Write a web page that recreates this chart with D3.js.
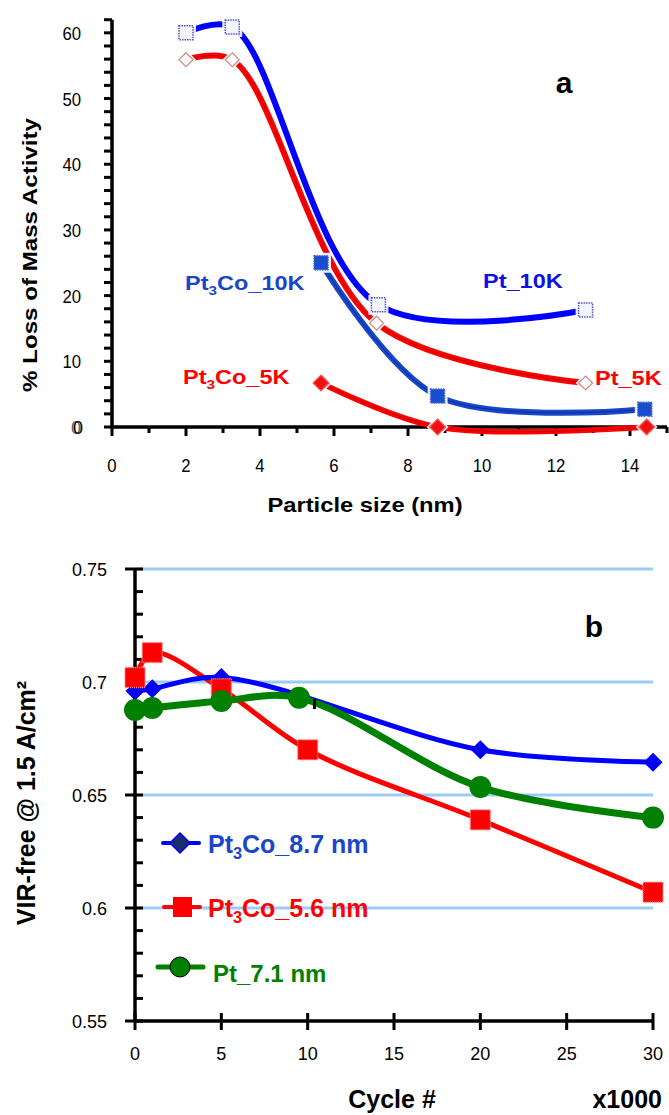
<!DOCTYPE html>
<html>
<head>
<meta charset="utf-8">
<script src="https://cdn.jsdelivr.net/npm/d3@7"></script>
<style>
  body { margin: 0; background: #fff; }
  svg { display: block; font-family: "Liberation Sans", Arial, sans-serif; }
</style>
</head>
<body>
<div id="svgcontainer"></div>
<script>
// --- --- Data --- ---

// Panel a: % loss of mass activity vs particle size (nm)
var pt10k_x = [2.0, 3.25, 7.2, 12.8];
var pt10k_y = [60.0, 60.9, 18.6, 17.8];
var pt5k_x = [2.0, 3.25, 7.15, 12.8];
var pt5k_y = [55.9, 55.9, 15.8, 6.7];
var pt3co10k_x = [5.65, 8.8, 14.4];
var pt3co10k_y = [25.0, 4.7, 2.7];
var pt3co5k_x = [5.65, 8.8, 14.45];
var pt3co5k_y = [6.7, 0, 0];

// Panel b: VIR-free @ 1.5 A/cm2 vs cycle # (x1000)
var blue_cycles = [0, 1, 5, 20, 30];
var blue_vir = [0.696, 0.697, 0.702, 0.670, 0.6645];
var red_cycles = [0, 1, 5, 10, 20, 30];
var red_vir = [0.702, 0.713, 0.697, 0.670, 0.639, 0.607];
var green_cycles = [0, 1, 5, 9.5, 20, 30];
var green_vir = [0.6876, 0.6885, 0.6916, 0.693, 0.6535, 0.640];

var top_y_ticks = [0, 10, 20, 30, 40, 50, 60];
var top_x_ticks = [0, 2, 4, 6, 8, 10, 12, 14];
var bot_y_ticks = ["0.55", "0.6", "0.65", "0.7", "0.75"];
var bot_x_ticks = [0, 5, 10, 15, 20, 25, 30];

// --- --- Setup --- ---
var width = 669;
var height = 1115;

var svg = d3.select("#svgcontainer").append("svg")
    .attr("width", width).attr("height", height).attr("id", "svg");

var smooth = d3.curveCatmullRom.alpha(0.5);

function zip(xs, ys){
    return xs.map(function(v, i){ return [v, ys[i]]; });
}

// --- Text helper: parts is a list of [string, isSubscript] ---
// sx stretches the text along its own direction (the original picture is a bit stretched)
function addText(g, x, y, parts, size, o){
    o = o || {};
    var tr = "translate(" + x + "," + y + ")";
    if (o.rotate) tr += " rotate(" + o.rotate + ")";
    if (o.sx) tr += " scale(" + o.sx + ",1)";
    var t = g.append("text").attr("transform", tr)
        .attr("font-size", size)
        .attr("font-weight", o.bold ? "bold" : "normal")
        .attr("fill", o.fill || "#000")
        .attr("text-anchor", o.anchor || "start");
    if (typeof parts == "string" || typeof parts == "number") parts = [[String(parts), false]];
    var down = false;
    parts.forEach(function(p){
        var s = t.append("tspan").text(p[0]);
        if (p[1]){
            s.attr("dy", size * 0.25).attr("font-size", size * 0.65);
            down = true;
        } else if (down){
            s.attr("dy", -size * 0.25);
            down = false;
        }
    });
    return t;
}

function drawCurve(g, line, pts, color, w, inner){
    g.append("path").attr("d", line(pts)).attr("fill", "none")
        .attr("stroke", color).attr("stroke-width", w);
    if (inner){
        g.append("path").attr("d", line(pts)).attr("fill", "none")
            .attr("stroke", inner).attr("stroke-width", 1);
    }
}

// --- --- Panel a --- ---
var xa = d3.scaleLinear().domain([0, 15]).range([112, 667]);
var ya = d3.scaleLinear().domain([0, 62]).range([427, 19.7]);

var ga = svg.append("g");

// axes
ga.append("line").attr("x1", xa(0)).attr("x2", xa(15)).attr("y1", ya(0)).attr("y2", ya(0))
    .attr("stroke", "#000").attr("stroke-width", 3.5);
ga.append("line").attr("x1", xa(0)).attr("x2", xa(0)).attr("y1", ya(0) + 1.5).attr("y2", ya(62))
    .attr("stroke", "#000").attr("stroke-width", 3.5);

d3.range(0, 63, 2).forEach(function(v){
    ga.append("line").attr("x1", xa(0) - 8).attr("x2", xa(0)).attr("y1", ya(v)).attr("y2", ya(v))
        .attr("stroke", "#000").attr("stroke-width", 3);
});
d3.range(0, 16, 1).forEach(function(v){
    var major = (v % 2 == 0);
    ga.append("line").attr("x1", xa(v)).attr("x2", xa(v)).attr("y1", ya(0)).attr("y2", ya(0) + (major ? 9 : 6))
        .attr("stroke", "#000").attr("stroke-width", 3);
});

top_y_ticks.forEach(function(v){
    if (v == 0){
        // the zero label shows up doubled in the original
        addText(ga, 81, ya(0) + 7, "0", 18, {anchor: "end", fill: "#666"});
        addText(ga, 83, ya(0) + 7, "0", 18, {anchor: "end"});
        return;
    }
    addText(ga, 81, ya(v) + 7, v, 18, {anchor: "end", sx: 0.93});
});
top_x_ticks.forEach(function(v){
    addText(ga, xa(v), 472, v, 18, {anchor: "middle", sx: 0.93});
});

addText(ga, 365, 512, "Particle size (nm)", 21, {anchor: "middle", bold: true, sx: 1.13});
addText(ga, 37, 255, "% Loss of Mass Activity", 21, {anchor: "middle", bold: true, rotate: -90, sx: 1.15});
addText(ga, 564, 93, "a", 30, {anchor: "middle", bold: true});

var lineA = d3.line().x(function(d){ return xa(d[0]); }).y(function(d){ return ya(d[1]); }).curve(smooth);

drawCurve(ga, lineA, zip(pt3co5k_x, pt3co5k_y), "#ff0000", 5.5, "#c80000");
drawCurve(ga, lineA, zip(pt3co10k_x, pt3co10k_y), "#1846c8", 6, "#0a2fa0");
drawCurve(ga, lineA, zip(pt5k_x, pt5k_y), "#ff0000", 6, "#c00000");
drawCurve(ga, lineA, zip(pt10k_x, pt10k_y), "#0000ff", 6, null);

function square(g, x, y, s, fill, stroke){
    g.append("rect").attr("x", x - s / 2 - 3).attr("y", y - s / 2 - 3).attr("width", s + 6).attr("height", s + 6)
        .attr("fill", "#fff").attr("opacity", 0.9);
    g.append("rect").attr("x", x - s / 2).attr("y", y - s / 2).attr("width", s).attr("height", s)
        .attr("fill", fill).attr("stroke", stroke).attr("stroke-width", 1.5).attr("stroke-dasharray", "1.5,1");
}
function diamond(g, x, y, s, fill, stroke){
    var p = [[x, y - s], [x + s, y], [x, y + s], [x - s, y]];
    g.append("path").attr("d", "M" + [[x, y - s - 3], [x + s + 3, y], [x, y + s + 3], [x - s - 3, y]].join("L") + "Z")
        .attr("fill", "#fff").attr("opacity", 0.9);
    g.append("path").attr("d", "M" + p.join("L") + "Z")
        .attr("fill", fill).attr("stroke", stroke).attr("stroke-width", 1.2);
}

pt10k_x.forEach(function(v, i){ square(ga, xa(v), ya(pt10k_y[i]), 14, "#f4f4ff", "#5555cc"); });
pt5k_x.forEach(function(v, i){ diamond(ga, xa(v), ya(pt5k_y[i]), 7, "#fff", "#d08a8a"); });
pt3co10k_x.forEach(function(v, i){ square(ga, xa(v), ya(pt3co10k_y[i]), 14, "#1a4ccc", "#3a6ae0"); });
pt3co5k_x.forEach(function(v, i){ diamond(ga, xa(v), ya(pt3co5k_y[i]), 8, "#ee1111", "#ff5555"); });

addText(ga, 185, 290, [["Pt", false], ["3", true], ["Co_10K", false]], 21, {bold: true, fill: "#1a46cc", sx: 1.12});
addText(ga, 183, 384, [["Pt", false], ["3", true], ["Co_5K", false]], 21, {bold: true, fill: "#ff0000", sx: 1.12});
addText(ga, 483, 288, "Pt_10K", 21, {bold: true, fill: "#1010e6", sx: 1.12});
addText(ga, 595, 385, "Pt_5K", 21, {bold: true, fill: "#ff0000", sx: 1.12});

// --- --- Panel b --- ---
var xb = d3.scaleLinear().domain([0, 30]).range([135, 653]);
var yb = d3.scaleLinear().domain([0.55, 0.75]).range([1021, 569]);

var gb = svg.append("g");

// grid lines
[0.6, 0.65, 0.7, 0.75].forEach(function(v){
    gb.append("line").attr("x1", xb(0)).attr("x2", xb(30)).attr("y1", yb(v)).attr("y2", yb(v))
        .attr("stroke", "#9ccbf7").attr("stroke-width", 3);
});

gb.append("line").attr("x1", xb(0)).attr("x2", xb(30)).attr("y1", yb(0.55)).attr("y2", yb(0.55))
    .attr("stroke", "#000").attr("stroke-width", 3.5);
gb.append("line").attr("x1", xb(0)).attr("x2", xb(0)).attr("y1", yb(0.55)).attr("y2", yb(0.75))
    .attr("stroke", "#000").attr("stroke-width", 3.5);

d3.range(0, 21, 1).forEach(function(k){
    var v = 0.55 + k * 0.01;
    var major = (k % 5 == 0);
    gb.append("line").attr("x1", xb(0) - (major ? 10 : 0)).attr("x2", xb(0) + 8)
        .attr("y1", yb(v)).attr("y2", yb(v)).attr("stroke", "#000").attr("stroke-width", 3);
});
bot_x_ticks.forEach(function(v){
    gb.append("line").attr("x1", xb(v)).attr("x2", xb(v)).attr("y1", yb(0.55) - 8).attr("y2", yb(0.55) + 9)
        .attr("stroke", "#000").attr("stroke-width", 3);
    addText(gb, xb(v), 1060, v, 18, {anchor: "middle"});
});
bot_y_ticks.forEach(function(v){
    addText(gb, 107, yb(+v) + 7, v, 18, {anchor: "end"});
});

addText(gb, 392, 1108, "Cycle #", 25, {anchor: "middle", bold: true});
addText(gb, 662, 1108, "x1000", 25, {anchor: "end", bold: true});
addText(gb, 35, 803, "VIR-free @ 1.5 A/cm²", 25, {anchor: "middle", bold: true, rotate: -90});
addText(gb, 594, 637, "b", 30, {anchor: "middle", bold: true});

var lineB = d3.line().x(function(d){ return xb(d[0]); }).y(function(d){ return yb(d[1]); }).curve(smooth);

drawCurve(gb, lineB, zip(red_cycles, red_vir), "#ff0000", 5, null);
drawCurve(gb, lineB, zip(blue_cycles, blue_vir), "#0000ff", 5, null);
drawCurve(gb, lineB, zip(green_cycles, green_vir), "#008000", 7, null);

function redSquare(g, x, y){
    g.append("rect").attr("x", x - 10).attr("y", y - 10).attr("width", 20).attr("height", 20)
        .attr("fill", "#f00").attr("stroke", "#ff8888").attr("stroke-width", 1.5).attr("stroke-dasharray", "1,1");
}
function blueDiamond(g, x, y, s, fill){
    g.append("path").attr("d", "M" + [[x, y - s], [x + s, y], [x, y + s], [x - s, y]].join("L") + "Z")
        .attr("fill", fill).attr("stroke", "#0000ff").attr("stroke-width", 1.5);
}

blue_cycles.forEach(function(v, i){ blueDiamond(gb, xb(v), yb(blue_vir[i]), 8.5, "#0000ee"); });
red_cycles.forEach(function(v, i){ redSquare(gb, xb(v), yb(red_vir[i])); });
green_cycles.forEach(function(v, i){
    gb.append("circle").attr("cx", xb(v)).attr("cy", yb(green_vir[i])).attr("r", 11).attr("fill", "#008000");
});

// small black mark next to the green point near 10
gb.append("rect").attr("x", 313).attr("y", 699).attr("width", 3).attr("height", 10).attr("fill", "#000");

// legend
gb.append("line").attr("x1", 163).attr("x2", 199).attr("y1", 843).attr("y2", 843)
    .attr("stroke", "#0000ff").attr("stroke-width", 4).attr("stroke-linecap", "round");
blueDiamond(gb, 180, 843, 10, "#1a2d6e");
addText(gb, 208, 853, [["Pt", false], ["3", true], ["Co_8.7 nm", false]], 25, {bold: true, fill: "#1a46cc"});

gb.append("line").attr("x1", 164).attr("x2", 200).attr("y1", 907).attr("y2", 907)
    .attr("stroke", "#ff0000").attr("stroke-width", 4).attr("stroke-linecap", "round");
gb.append("rect").attr("x", 173).attr("y", 897).attr("width", 19).attr("height", 20).attr("fill", "#ff0000");
addText(gb, 208, 917, [["Pt", false], ["3", true], ["Co_5.6 nm", false]], 25, {bold: true, fill: "#ff0000"});

gb.append("line").attr("x1", 158).attr("x2", 203).attr("y1", 967).attr("y2", 967)
    .attr("stroke", "#008000").attr("stroke-width", 5).attr("stroke-linecap", "round");
gb.append("circle").attr("cx", 180).attr("cy", 967).attr("r", 10).attr("fill", "#008000")
    .attr("stroke", "#000").attr("stroke-width", 1);
addText(gb, 213, 982, "Pt_7.1 nm", 24, {bold: true, fill: "#008000"});
</script>
</body>
</html>
